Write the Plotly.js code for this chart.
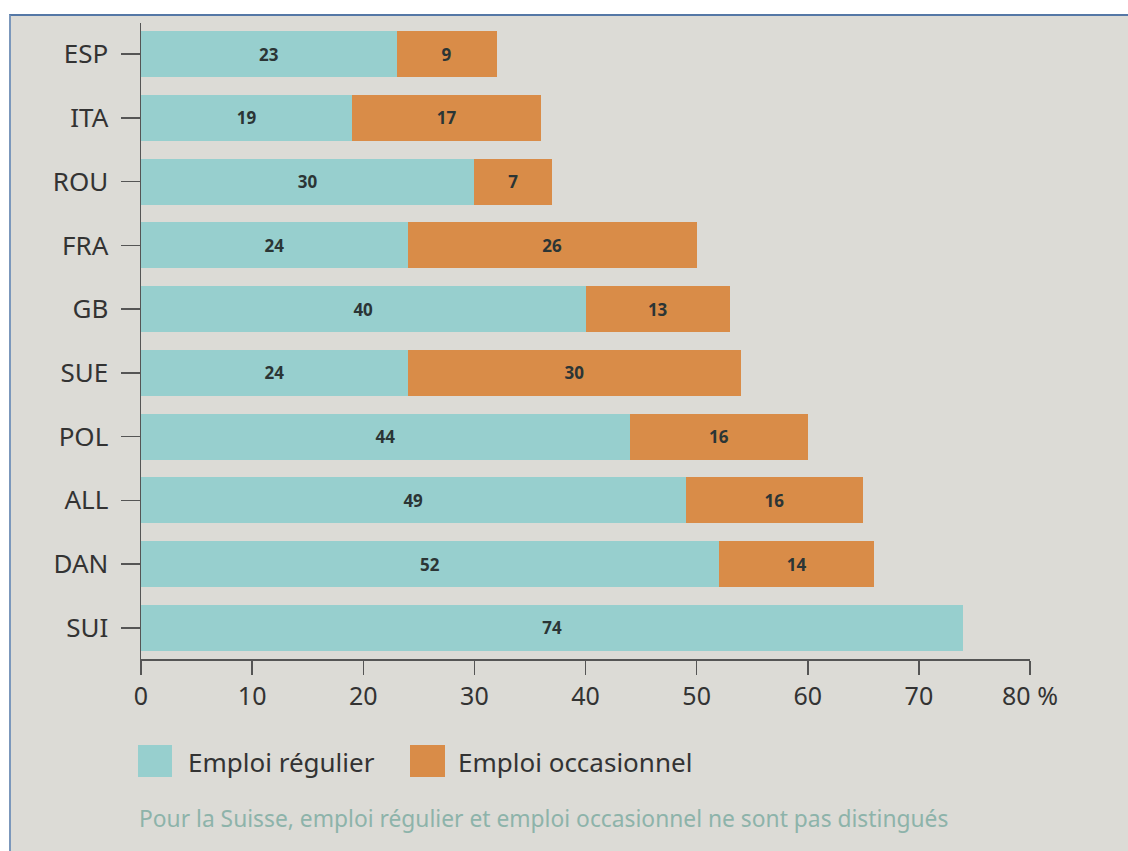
<!DOCTYPE html>
<html>
<head>
<meta charset="utf-8">
<script src="https://cdn.plot.ly/plotly-3.0.1.min.js"></script>
<style>
  html, body { margin: 0; padding: 0; background: #ffffff; }
  #bg { position: absolute; left: 9px; top: 14px; width: 1119px; height: 837px;
        background: #dcdbd6; border-top: 2px solid #5578a6; border-left: 2px solid #7b97bb; box-sizing: border-box; }
  #chart { position: absolute; left: 0; top: 0; width: 1128px; height: 851px; }
</style>
</head>
<body>
<div id="bg"></div>
<div id="chart"></div>
<script>
const countries = ["ESP", "ITA", "ROU", "FRA", "GB", "SUE", "POL", "ALL", "DAN", "SUI"];
const regulier = [23, 19, 30, 24, 40, 24, 44, 49, 52, 74];
const occasionnel = [9, 17, 7, 26, 13, 30, 16, 16, 14, null];
const tickVals = [0, 10, 20, 30, 40, 50, 60, 70, 80];
const tickLabels = ["0", "10", "20", "30", "40", "50", "60", "70", "80 %"];
const seriesNames = ["Emploi régulier", "Emploi occasionnel"];
const seriesColors = ["#97cfce", "#d98c48"];
const footnote = "Pour la Suisse, emploi régulier et emploi occasionnel ne sont pas distingués";

const FONT = "Noto Sans, sans-serif";
const labelFont = { family: FONT, size: 17, color: "#2b3535", weight: 700 };

const traces = [
  {
    type: "bar", orientation: "h", name: seriesNames[0],
    y: countries, x: regulier,
    marker: { color: seriesColors[0], line: { width: 0 } },
    text: regulier.map(v => v == null ? "" : String(v)),
    textposition: "inside", insidetextanchor: "middle",
    textfont: labelFont, hoverinfo: "x+y"
  },
  {
    type: "bar", orientation: "h", name: seriesNames[1],
    y: countries, x: occasionnel,
    marker: { color: seriesColors[1], line: { width: 0 } },
    text: occasionnel.map(v => v == null ? "" : String(v)),
    textposition: "inside", insidetextanchor: "middle",
    textfont: labelFont, hoverinfo: "x+y"
  }
];

// paper coordinates helpers (plot area: x 141..1030 px, y 23..659 px)
const L = 141, R = 1030, T = 23, B = 659;
const px = p => (p - L) / (R - L);
const py = p => (B - p) / (B - T);

const shapes = [
  { type: "rect", xref: "paper", yref: "paper", x0: px(138), x1: px(172), y0: py(777), y1: py(745),
    fillcolor: seriesColors[0], line: { width: 0 } },
  { type: "rect", xref: "paper", yref: "paper", x0: px(410), x1: px(445), y0: py(777), y1: py(745),
    fillcolor: seriesColors[1], line: { width: 0 } }
];

const annotations = [
  { xref: "paper", yref: "paper", x: px(186), y: py(762), xanchor: "left", yanchor: "middle",
    text: seriesNames[0], showarrow: false,
    font: { family: FONT, size: 26, color: "#333333" } },
  { xref: "paper", yref: "paper", x: px(456), y: py(762), xanchor: "left", yanchor: "middle",
    text: seriesNames[1], showarrow: false,
    font: { family: FONT, size: 26, color: "#333333" } },
  { xref: "paper", yref: "paper", x: px(137), y: py(818), xanchor: "left", yanchor: "middle",
    text: footnote, showarrow: false,
    font: { family: FONT, size: 22.8, color: "#8db3aa" } }
];

const layout = {
  width: 1128, height: 851,
  margin: { l: L, r: 1128 - R, t: T, b: 851 - B, pad: 0 },
  paper_bgcolor: "rgba(0,0,0,0)",
  plot_bgcolor: "rgba(0,0,0,0)",
  barmode: "stack",
  bargap: 0.28,
  showlegend: false,
  font: { family: FONT, color: "#333333" },
  xaxis: {
    range: [0, 80], tickmode: "array", tickvals: tickVals, ticktext: tickLabels,
    showgrid: false, zeroline: false,
    showline: true, linecolor: "#555555", linewidth: 1.5,
    ticks: "outside", ticklen: 14, tickwidth: 1.5, tickcolor: "#555555",
    tickfont: { family: FONT, size: 25, color: "#333333" },
    fixedrange: true
  },
  yaxis: {
    type: "category", autorange: false, range: [9.49, -0.49],
    showgrid: false, zeroline: false,
    showline: true, linecolor: "#555555", linewidth: 1.5,
    ticks: "outside", ticklen: 19, tickwidth: 1.5, tickcolor: "#555555",
    ticklabelstandoff: 7,
    tickfont: { family: FONT, size: 26, color: "#333333" },
    fixedrange: true
  },
  shapes: shapes,
  annotations: annotations,
  uniformtext: { mode: "show", minsize: 17 }
};

Plotly.newPlot("chart", traces, layout, { displayModeBar: false, staticPlot: true });
</script>
</body>
</html>
